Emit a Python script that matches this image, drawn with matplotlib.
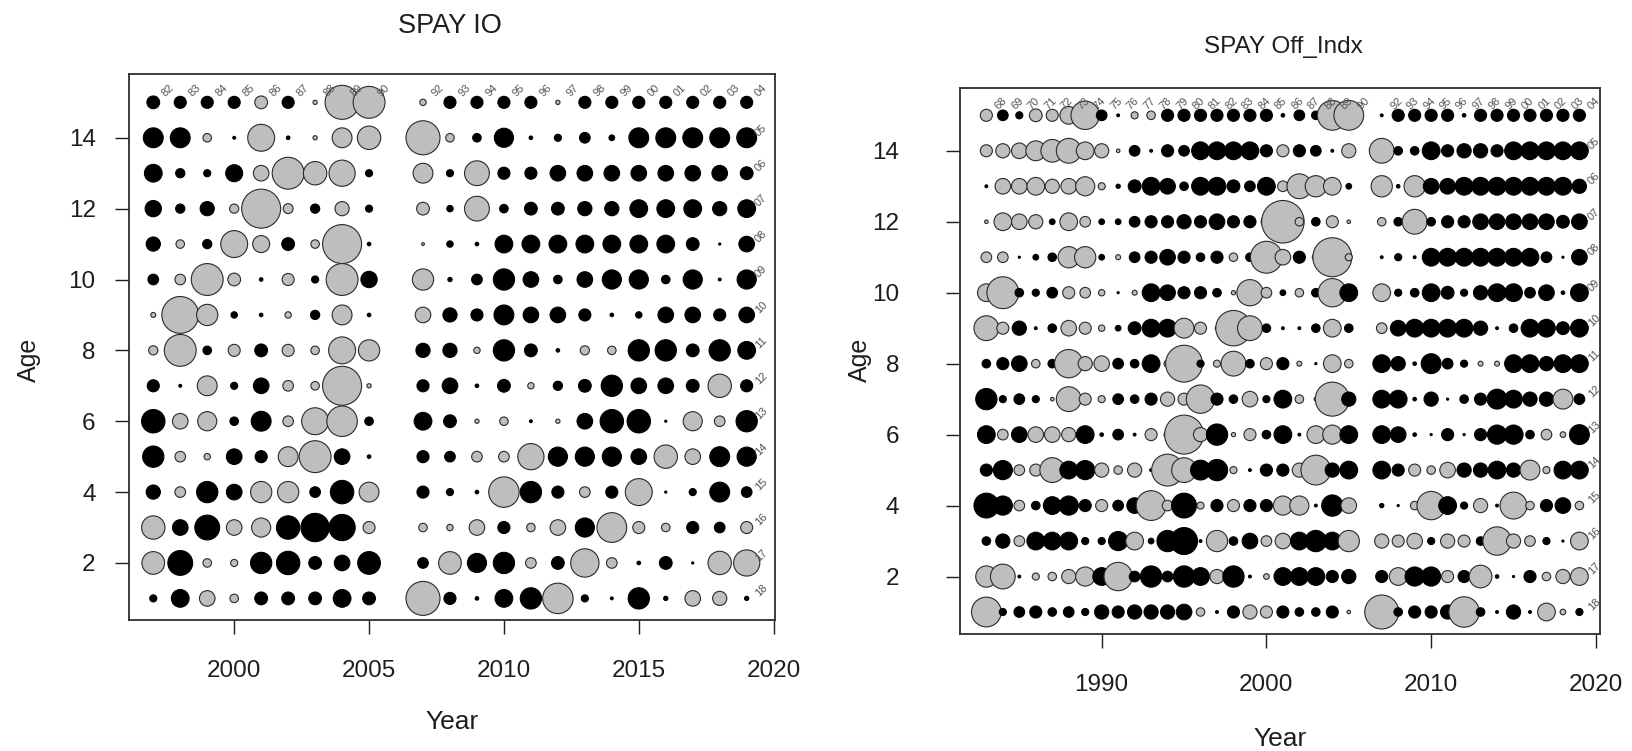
#Bubble plots of residuals by year and age for the two SPAY indices

import numpy as np
import matplotlib
matplotlib.use('Agg')
import matplotlib.pyplot as plt

plt.rcParams['font.family'] = ['Liberation Sans', 'DejaVu Sans']

#ages from top row to bottom row
ages = list(range(15, 0, -1))

#SPAY IO: years (no 2006) and residuals, one row per age (15 down to 1)
io_years = [1997, 1998, 1999, 2000, 2001, 2002, 2003, 2004, 2005,
            2007, 2008, 2009, 2010, 2011, 2012, 2013, 2014, 2015, 2016, 2017, 2018, 2019]
io_resid = [
    [1.8, 1.7, 1.7, 1.7, -1.8, 1.7, -0.6, -4.8, -4.5, -0.9, 1.7, 1.7, 1.7, 1.7, -0.6, 1.7, 1.7, 1.7, 1.7, 1.7, 1.7, 1.7],
    [2.8, 2.8, -1.2, 0.4, -3.8, 0.5, -0.6, -2.8, -3.3, -4.8, -1.2, 1.2, 2.7, 0.5, 1.0, 1.5, 0.8, 2.8, 2.8, 2.8, 2.8, 2.8],
    [2.5, 1.3, 1.0, 2.4, -2.2, -4.5, -3.3, -3.7, 1.0, -2.8, 1.0, -3.5, 1.7, 1.7, 2.2, 2.2, 2.2, 2.2, 2.2, 2.2, 2.2, 1.8],
    [2.3, 1.3, 2.0, -1.3, -5.5, -1.4, 1.3, -2.0, 1.0, -1.8, 0.9, -3.5, 1.2, 1.8, 1.8, 2.0, 2.0, 2.5, 2.5, 2.5, 2.0, 2.5],
    [2.0, -1.2, 1.3, -3.8, -2.4, 1.8, -1.2, -5.5, 0.5, -0.4, 0.9, 0.5, 2.5, 2.5, 2.5, 2.5, 2.5, 2.5, 2.5, 1.8, 0.3, 2.2],
    [1.5, -1.5, -4.5, -1.8, 0.5, -1.7, 1.0, -4.5, 2.3, -3.0, 0.6, 1.5, 3.0, 2.2, 1.2, 2.2, 2.7, 2.7, 1.2, 2.7, 0.4, 2.7],
    [-0.7, -5.2, -3.0, 0.9, 0.5, -0.9, 1.3, -2.8, 0.5, -2.2, 2.0, 1.7, 2.8, 2.2, 2.2, 1.7, 0.5, 0.9, 2.2, 2.2, 1.7, 2.2],
    [-1.3, -4.5, 1.2, -1.7, 1.8, -1.7, -1.2, -3.8, -3.0, 2.0, 2.0, -0.9, 3.0, 1.8, 0.5, -1.3, -1.2, 3.0, 3.0, 1.8, 3.0, 2.5],
    [1.7, 0.4, -2.8, 1.0, 2.2, -1.5, -1.2, -5.5, -0.6, 1.7, 2.2, 0.5, 1.8, -0.9, 1.3, 1.8, 3.0, 2.2, 2.2, 1.8, -3.3, 1.7],
    [3.3, -2.2, -2.7, 1.2, 2.8, -1.5, -3.8, -4.3, 1.2, 2.5, 1.8, -0.6, -1.2, 0.4, -0.6, 2.2, 3.3, 3.3, 0.3, -2.7, -1.5, 3.0],
    [3.0, -1.5, -0.9, 2.2, 1.7, -2.8, -4.5, 2.2, 0.5, 1.7, 1.5, -1.5, -1.5, -3.7, 2.7, 2.7, 2.7, 2.2, -3.3, -2.2, 2.8, 2.7],
    [2.0, -1.5, 3.0, 2.2, -3.0, -3.0, 1.5, 3.3, -2.8, 1.7, 1.0, 0.5, -4.3, 3.0, 1.7, -1.5, 1.7, -3.8, 0.3, 1.0, 2.8, 1.5],
    [-3.3, 2.2, 3.5, -2.2, -2.7, 3.3, 4.0, 3.7, -1.7, -1.2, -0.9, -2.2, 1.7, -1.2, -2.2, 2.7, -4.2, -1.7, -1.2, 1.7, 1.5, -1.7],
    [-3.2, 3.5, -1.2, -1.0, 3.0, 3.3, 1.8, 2.2, 3.2, 1.5, -3.2, 2.7, 3.0, -1.5, 1.8, -4.0, -1.5, 0.5, 1.8, 0.3, -3.3, -3.7],
    [1.0, 2.5, -2.2, -1.2, 1.8, 1.8, 1.8, 2.5, 1.8, -4.8, 1.7, 0.5, 2.5, 3.0, -4.3, 1.0, 0.4, 3.0, 0.6, -2.2, -2.0, 0.6],
]

#SPAY Off_Indx: years (no 2006) and residuals, one row per age (15 down to 1)
off_years = list(range(1983, 2006)) + list(range(2007, 2020))
off_resid = [
    [-1.7, 1.5, 1.0, -1.8, -1.7, -2.5, -4.0, 1.5, 0.4, -1.0,
     -1.2, 1.7, 1.7, 1.7, 1.7, 1.7, 1.7, 1.7, 0.5, 1.5, 1.2, -4.2, -4.2,
     0.4, 1.7, 1.7, 1.7, 1.7, 0.5, 1.7, 1.7, 1.7, 1.7, 1.7, 1.7, 1.7],
    [-1.7, -2.0, -2.2, -2.8, -3.2, -3.5, -2.5, -2.0, -0.5, 1.5,
     0.4, 1.7, 1.5, 2.5, 2.5, 2.5, 2.5, 1.7, -1.7, 1.7, 1.5, 0.4, -2.0,
     -3.5, 1.2, 1.2, 2.5, 1.7, 2.0, 2.0, 1.7, 2.5, 2.5, 2.5, 2.5, 2.5],
    [0.4, -2.2, -2.2, -2.5, -2.0, -2.2, -2.7, -1.0, 0.6, 1.8,
     2.5, 2.2, 1.2, 2.5, 2.5, 1.8, 1.5, 2.5, -1.5, -3.5, -3.0, -2.5, 0.8,
     -3.0, 0.5, -3.0, 2.2, 2.2, 2.5, 2.5, 2.5, 2.5, 2.5, 2.5, 2.5, 2.0],
    [-0.5, -2.5, -2.2, -2.0, 0.8, -2.5, -1.5, 0.8, 0.8, 1.5,
     1.7, 1.7, 2.0, 1.7, 2.2, 1.7, 1.7, -1.5, -6.0, -1.2, 1.2, -1.7, -0.5,
     -1.2, 1.2, -3.5, 1.2, 1.7, 1.7, 2.2, 2.2, 2.2, 2.2, 2.2, 1.8, 2.2],
    [-1.5, -1.5, 0.3, 0.8, 1.2, -3.0, -3.0, 0.8, -0.7, 1.5,
     1.7, 2.2, 1.7, 1.2, 1.7, -1.2, 1.2, -4.5, -2.2, 1.7, -1.0, -5.5, -1.0,
     0.4, 1.0, 0.4, 2.5, 2.5, 2.5, 2.5, 2.5, 2.5, 2.5, 1.5, 0.3, 2.2],
    [-2.5, -4.5, 1.2, 1.0, 1.5, -1.7, -1.5, -0.9, 0.3, -0.7,
     2.5, 2.2, 1.7, 1.7, 1.2, -0.6, -3.7, -1.5, 0.8, -1.2, 1.2, -4.0, 2.5,
     -2.5, 1.0, 1.2, 2.5, 1.8, 1.0, 2.0, 2.5, 2.5, 1.5, 2.2, 0.5, 2.5],
    [-3.5, -1.7, 2.0, 0.4, 1.2, -2.2, -1.7, -0.9, 0.8, 1.8,
     2.5, 2.5, -2.8, -1.7, 0.5, -5.0, -3.5, 1.2, 0.4, 0.4, 1.2, -2.5, 1.2,
     -1.5, 2.2, 2.5, 2.5, 2.5, 2.5, 2.0, 0.4, 1.2, 2.5, 2.5, 1.8, 2.5],
    [1.2, 1.7, 2.2, -1.2, 1.2, -4.0, -2.0, -2.2, 1.5, 1.2,
     2.5, -1.0, -5.2, 1.0, -1.0, -3.5, 1.2, -1.7, 1.7, -0.7, 0.3, -2.5, -1.2,
     2.5, 2.0, 0.5, 2.8, 1.5, 1.0, -0.7, -0.7, 2.5, 2.5, 2.0, 2.5, 2.5],
    [3.0, 1.0, 1.5, 1.0, -0.5, -3.5, -1.7, -1.0, 1.5, 1.2,
     1.7, -2.0, -1.7, -4.0, 1.7, 1.2, -2.2, 1.0, 2.5, -1.2, -0.5, -4.8, 2.0,
     2.5, 2.5, 0.5, 2.0, 0.3, 1.2, 1.7, 2.8, 2.5, 2.0, 2.0, -2.8, 1.5],
    [2.5, -1.5, 2.2, -2.2, -2.2, -2.0, 2.5, 0.5, 1.5, 0.4,
     -1.7, -1.0, -5.5, -2.0, 3.0, -0.6, -1.7, 1.2, 2.5, 0.4, -2.5, -2.7, 2.5,
     2.5, 2.2, 0.5, 0.3, 1.7, 0.3, 1.7, 2.7, 2.7, 1.2, -1.5, -0.8, 2.8],
    [1.7, 2.7, -1.5, -1.7, -3.5, 2.5, 2.7, -2.0, -1.2, -2.0,
     0.4, -4.5, -3.5, 2.8, 3.0, -1.0, 0.4, 1.7, 1.7, -2.0, -4.2, 2.0, 2.5,
     2.5, 1.7, -1.7, -1.2, -2.2, 2.0, 2.0, 2.5, 2.0, -2.8, -1.0, 2.5, 2.5],
    [3.5, 2.7, -1.5, 1.2, 2.5, 2.7, 1.7, -1.7, 1.5, 2.2,
     -4.2, -1.5, 3.5, -1.0, 1.7, -1.7, 1.7, 1.7, -2.7, -2.7, 0.4, 3.0, -2.2,
     0.6, 0.3, -1.2, -4.0, 2.5, 1.0, -2.0, 0.4, -3.8, -1.2, 1.7, 2.2, -1.2],
    [1.2, 2.0, -1.5, 2.5, 2.5, 2.5, 1.0, 1.0, 2.7, -2.5,
     0.8, 3.0, 3.8, 0.4, -3.0, 1.2, 2.2, -1.5, -2.2, 2.5, 3.0, 2.5, -3.0,
     -2.0, -1.7, -2.2, 1.0, -2.0, -1.7, 1.2, -4.0, -2.0, -1.5, 1.0, 0.3, -2.5],
    [-3.0, -3.5, 0.4, -1.0, -1.2, -2.0, -2.7, 2.5, -4.0, 1.5,
     3.0, 1.5, 3.0, 2.5, -2.0, 3.0, 0.4, -0.8, 2.5, 2.5, 2.5, 1.7, 2.0,
     1.7, -2.5, 2.7, 2.7, -1.7, 1.7, -3.2, 0.5, 0.3, 1.7, -1.2, -2.0, -2.5],
    [-4.2, 1.0, 1.5, 1.7, 1.2, 1.5, 1.0, 2.0, 1.7, 2.0,
     2.0, 2.0, 2.2, -1.2, 0.4, 1.7, -2.0, -1.7, 1.7, 1.2, 1.2, 1.7, -0.5,
     -4.8, 1.2, 1.7, 1.7, 2.0, -4.3, 1.2, 0.4, 2.0, 0.4, -2.5, -0.8, 1.0],
]

W, H = 1633, 751
fig = plt.figure(figsize=(W / 100, H / 100), dpi=100)
txt = dict(color='#1e1e1e', ha='center', va='center')


def px_axes(x0, y0, x1, y1):
    #axes from pixel box (left, top, right, bottom)
    return fig.add_axes([x0 / W, (H - y1) / H, (x1 - x0) / W, (y1 - y0) / H])


def bubbles(ax, years, resid, xlim, ylim, xticks, ypad):
    r = np.array(resid)
    yy, aa = np.meshgrid(years, ages)
    v = r.ravel()
    face = np.where(v > 0, 'black', '#bebebe')
    edge = np.where(v > 0, 'black', '#2b2b2b')
    ax.scatter(yy.ravel(), aa.ravel(), s=(5.1 * np.abs(v)) ** 2,
               c=face, edgecolors=edge, linewidths=0.8, zorder=3)

    #cohort labels along the top row and the last year
    for y in years:
        ax.annotate('%02d' % ((y - 15) % 100), (y, 15), xytext=(10.5, 8.5),
                    textcoords='offset points', rotation=45, ha='center', va='center',
                    fontsize=8, color='#555555', annotation_clip=False, zorder=4)
    for a in ages[1:]:
        ax.annotate('%02d' % ((years[-1] - a) % 100), (years[-1], a), xytext=(10.5, 5.5),
                    textcoords='offset points', rotation=45, ha='center', va='center',
                    fontsize=8, color='#555555', annotation_clip=False, zorder=4)

    ax.set_xlim(*xlim)
    ax.set_ylim(*ylim)
    ax.set_xticks(xticks)
    ax.set_yticks(range(2, 16, 2))
    ax.tick_params(axis='x', length=10, width=1, pad=19, labelsize=17.5, colors='#1e1e1e')
    ax.tick_params(axis='y', length=10, width=1, pad=ypad, labelsize=17.5, colors='#1e1e1e')
    for s in ax.spines.values():
        s.set_color('#2e2e2e')
        s.set_linewidth(1.3)


ax1 = px_axes(129, 74, 775, 620)
bubbles(ax1, io_years, io_resid, (1996.1, 2020.05), (0.39, 15.8), range(2000, 2021, 5), 14)

ax2 = px_axes(960, 88, 1600, 634)
bubbles(ax2, off_years, off_resid, (1981.4, 2020.25), (0.38, 15.77), range(1990, 2021, 10), 34)

#titles and axis labels
fig.text(450 / W, 1 - 26 / H, 'SPAY IO', fontsize=19.5, **txt)
fig.text(1283 / W, 1 - 47 / H, 'SPAY Off_Indx', fontsize=17.5, **txt)
fig.text(452 / W, 1 - 722 / H, 'Year', fontsize=19, **txt)
fig.text(1280 / W, 1 - 739 / H, 'Year', fontsize=19, **txt)
fig.text(29 / W, 1 - 360 / H, 'Age', rotation=90, fontsize=18, **txt)
fig.text(860 / W, 1 - 360 / H, 'Age', rotation=90, fontsize=18, **txt)

fig.savefig('out.png', dpi=100)
